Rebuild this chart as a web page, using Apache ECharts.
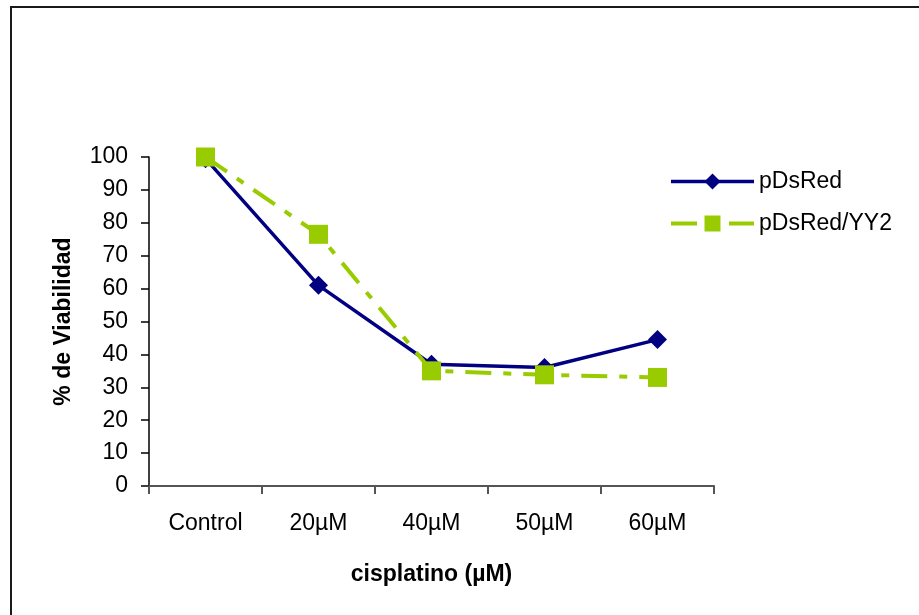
<!DOCTYPE html>
<html>
<head>
<meta charset="utf-8">
<script src="https://cdn.jsdelivr.net/npm/echarts@6/dist/echarts.min.js"></script>
<style>
  html, body { margin: 0; padding: 0; background: #fff; }
  #chart { width: 919px; height: 615px; }
</style>
</head>
<body>
<div id="chart"></div>
<script>
// Viability (%) per cisplatin dose for the two constructs
const categories = ['Control', '20µM', '40µM', '50µM', '60µM'];
const pDsRed = [99.5, 61, 37, 36, 44.5];
const pDsRedYY2 = [100, 76.5, 35, 33.8, 33];
const yTicks = { min: 0, max: 100, interval: 10 };

const font = 'Liberation Sans, Arial, sans-serif';
const chart = echarts.init(document.getElementById('chart'));

chart.setOption({
  animation: false,
  backgroundColor: '#fff',
  textStyle: { fontFamily: font },
  graphic: [{
    type: 'rect',
    shape: { x: 11, y: 7, width: 960, height: 660 },
    style: { fill: 'none', stroke: '#1a1a1a', lineWidth: 2 },
    silent: true
  }],
  grid: { left: 149, right: 205, top: 157, bottom: 129, containLabel: false },
  legend: {
    orient: 'vertical',
    left: 669,
    top: 170,
    padding: 0,
    itemWidth: 83,
    itemHeight: 20,
    itemGap: 19,
    textStyle: { fontSize: 23, color: '#000', fontFamily: font },
    data: [
      { name: 'pDsRed', lineStyle: { width: 3.5 } },
      { name: 'pDsRed/YY2', lineStyle: { width: 4 } }
    ]
  },
  xAxis: {
    type: 'category',
    data: categories,
    boundaryGap: true,
    name: 'cisplatino (µM)',
    nameLocation: 'middle',
    nameGap: 77,
    nameTextStyle: { fontSize: 23, fontWeight: 'bold', color: '#000', fontFamily: font },
    axisLine: { lineStyle: { color: '#555', width: 2 } },
    axisTick: { show: true, length: 8, alignWithLabel: false, lineStyle: { color: '#555', width: 2 } },
    axisLabel: { fontSize: 23, color: '#000', margin: 26, fontFamily: font }
  },
  yAxis: {
    type: 'value',
    min: yTicks.min,
    max: yTicks.max,
    interval: yTicks.interval,
    name: '% de Viabilidad',
    nameLocation: 'middle',
    nameGap: 74,
    nameRotate: 90,
    nameTextStyle: { fontSize: 23, fontWeight: 'bold', color: '#000', fontFamily: font },
    splitLine: { show: false },
    axisLine: { show: true, lineStyle: { color: '#000', width: 1.5 } },
    axisTick: { show: true, length: 8, inside: false, lineStyle: { color: '#000', width: 1.5 } },
    axisLabel: { fontSize: 23, color: '#000', margin: 21, fontFamily: font }
  },
  series: [
    {
      name: 'pDsRed',
      type: 'line',
      data: pDsRed,
      symbol: 'diamond',
      symbolSize: 19,
      z: 2,
      itemStyle: { color: '#000080' },
      lineStyle: { color: '#000080', width: 3.5 }
    },
    {
      name: 'pDsRed/YY2',
      type: 'line',
      data: pDsRedYY2,
      symbol: 'rect',
      symbolSize: 19,
      z: 3,
      itemStyle: { color: '#99CC00' },
      lineStyle: { color: '#99CC00', width: 4, type: [26, 12, 8, 12] }
    }
  ]
});
</script>
</body>
</html>
